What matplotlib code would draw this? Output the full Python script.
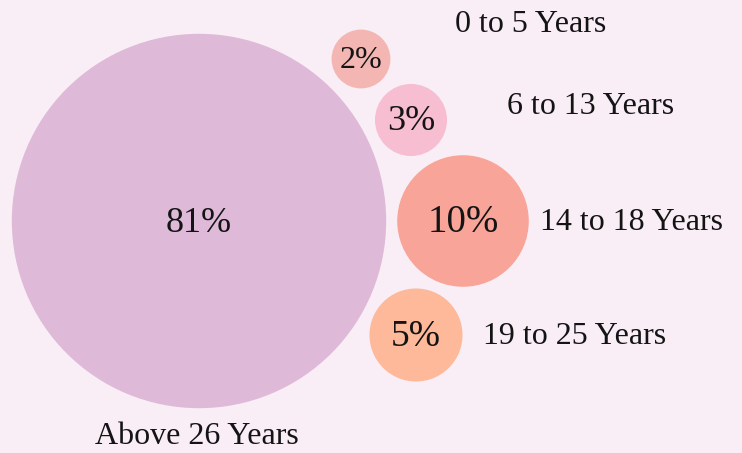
import matplotlib
matplotlib.use("Agg")
import matplotlib.pyplot as plt
from matplotlib.patches import Circle
import numpy as np

# Data
categories = ["Above 26 Years", "0 to 5 Years", "6 to 13 Years", "14 to 18 Years", "19 to 25 Years"]
values = [81, 2, 3, 10, 5]

# Layout (pixel coordinates of circle centres and labels)
centers = [(199, 221), (361, 59), (411, 120), (463, 221), (416, 335)]
label_pos = [(197, 437), (455, 24), (507, 106), (540, 223), (483, 337)]
label_ha = ["center", "left", "left", "left", "left"]
colors = ["#dfbad8", "#f4b6b3", "#f7bdd1", "#f9a498", "#fdb99a"]
pct_sizes = [26, 23, 26, 28, 27]
scale = 20.8  # px per sqrt(percent)
text_dy = 2

bg = "#f9eef6"
fig = plt.figure(figsize=(7.42, 4.53), dpi=100, facecolor=bg)
ax = fig.add_axes([0, 0, 1, 1])
ax.set_facecolor(bg)
ax.set_xlim(0, 742)
ax.set_ylim(453, 0)
ax.set_aspect("equal")
ax.axis("off")

font = ["Liberation Serif", "DejaVu Serif"]
for cat, v, c, col, lp, ha, ps in zip(categories, values, centers, colors, label_pos, label_ha, pct_sizes):
    r = scale * np.sqrt(v)
    ax.add_patch(Circle(c, r, facecolor=col, edgecolor="none"))
    ax.text(c[0], c[1] + text_dy, f"{v}%", ha="center", va="center", fontsize=ps,
            family=font, color="#141414")
    ax.text(lp[0], lp[1], cat, ha=ha, va="center", fontsize=23,
            family=font, color="#141414")

fig.savefig("out.png", dpi=100, facecolor=bg)
